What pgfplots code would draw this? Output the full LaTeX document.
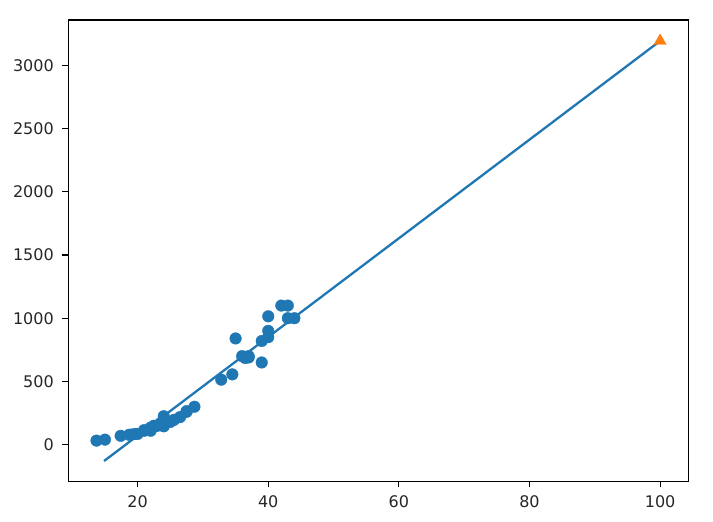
\documentclass[border=0pt]{standalone}
\usepackage{pgfplots}
\pgfplotsset{compat=1.18}
\usepackage{fontspec}
\setmainfont{DejaVu Sans}
\definecolor{mplblue}{HTML}{1F77B4}
\definecolor{mplorange}{HTML}{FF7F0E}
\begin{document}
\begin{tikzpicture}
\begin{axis}[
  at={(68.3pt,40.7pt)}, anchor=south west,
  scale only axis, width=620pt, height=461.3pt,
  xmin=9.385, xmax=104.315, ymin=-289.6, ymax=3358.5,
  xtick={20,40,60,80,100}, ytick={0,500,1000,1500,2000,2500,3000},
  tick align=outside, major tick length=6pt,
  tick style={line width=1.1pt, color=black},
  xtick pos=bottom, ytick pos=left,
  axis line style={line width=1.1pt},
  tick label style={font=\fontsize{16}{19}\selectfont, text=black!85},
  xticklabel style={yshift=-5pt},
  yticklabel style={xshift=-5pt},
  /pgf/number format/assume math mode=true,
  scaled ticks=false,
  /pgf/number format/1000 sep={},
  clip=false,
]
\addplot[only marks, mark=*, mark size=5.8pt, color=mplblue, mark options={draw=mplblue, fill=mplblue, line width=0.4pt}] coordinates {
(13.7,32) (15.0,40) (17.4,70) (18.7,78) (19.0,80) (19.6,85) (20.0,85)
(21.0,110) (21.0,115) (22.0,120) (22.0,120) (22.0,130) (22.0,135) (22.0,110)
(22.5,150) (22.7,145) (23.0,150) (23.5,170) (24.0,225) (24.0,145)
(25.0,180) (25.6,197) (26.5,218) (27.5,260) (27.5,265) (28.7,300)
(32.8,514) (34.5,556) (35.0,840) (36.5,685) (36.0,700) (37.0,700) (37.0,690)
(39.0,650) (39.0,820) (40.0,850) (40.0,900) (40.0,1015)
(42.0,1100) (43.0,1000) (43.0,1100) (44.0,1000)
};
\addplot[color=mplblue, line width=2.3pt, line cap=rect] coordinates {(15,-123.76) (100,3192.7)};
\addplot[only marks, mark=triangle*, mark size=7pt, color=mplorange, mark options={fill=mplorange, draw=mplorange, line width=0.4pt}] coordinates {(100,3192.7)};
\end{axis}
\path (0pt,0pt) rectangle (713pt,522pt);
\end{tikzpicture}
\end{document}
